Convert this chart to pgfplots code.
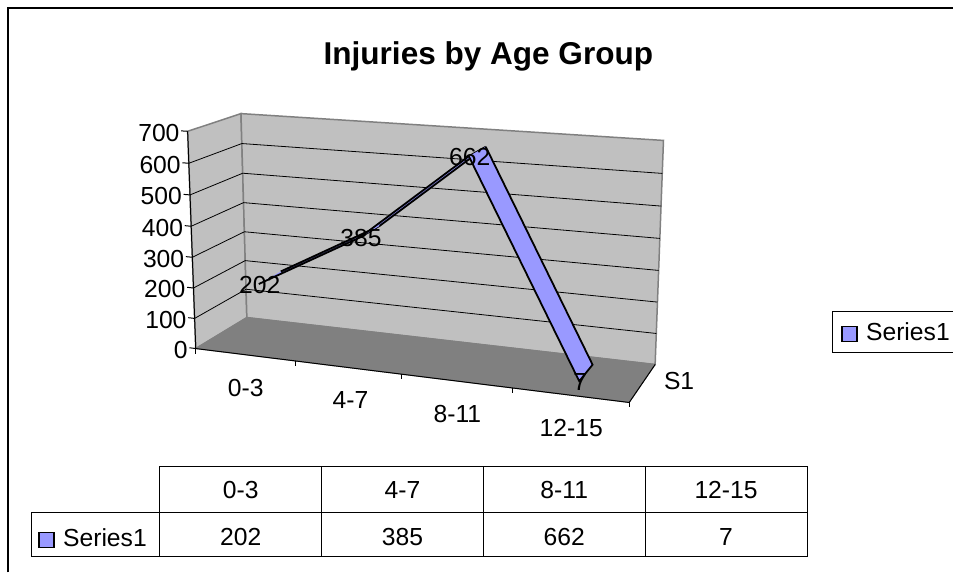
\documentclass[border=0pt]{standalone}
\usepackage{pgfplots}
\usepackage{pgfplotstable}
\usepackage{fontspec}
\setmainfont{Liberation Sans}
\pgfplotsset{compat=1.18}

% perspective of the 3D box: u = category position 0..4, v = depth 0..1, w = value 0..700
\newcommand{\den}{(1-0.025*\thisrow{u}+0.068*\thisrow{v}-0.034*\thisrow{w}/700)}
\newcommand{\px}{(92.75*\thisrow{u}+68*\thisrow{v}-14.5*\thisrow{w}/700+196)/\den}
\newcommand{\py}{(3.425*\thisrow{u}-9.4*\thisrow{v}-222*\thisrow{w}/700+349)/\den}
\pgfplotsset{table/proj/.style={x expr=\px, y expr=\py}}

% ribbon, front (v=0.3) and back (v=0.75) edges
\pgfplotstableread{
u v w
0.5 0.30 202
1.5 0.30 385
1.5 0.75 385
0.5 0.75 202
}\segA
\pgfplotstableread{
u v w
1.5 0.30 385
2.5 0.30 662
2.5 0.75 662
1.5 0.75 385
}\segB
\pgfplotstableread{
u v w
2.5 0.30 662
3.5 0.30 7
3.5 0.75 7
2.5 0.75 662
}\segC
\pgfplotstableread{
u v w lab
0.5 0.3 202 202
1.5 0.3 385 385
2.5 0.3 662 662
3.5 0.3 7 7
}\values

\definecolor{wall}{HTML}{C0C0C0}
\definecolor{floorc}{HTML}{808080}
\definecolor{serc}{HTML}{9999FF}

\begin{document}
\begin{tikzpicture}[font=\fontsize{24.8}{29}\selectfont]
\begin{axis}[
    width=954bp, height=573bp, scale only axis,
    xmin=0, xmax=954, ymin=0, ymax=573, y dir=reverse,
    axis lines=none, clip=false,
]
\fill[white] (axis cs:0,0) rectangle (axis cs:954,573);
% outer frame
\draw[black, line width=2.5bp] (axis cs:8,573) -- (axis cs:8,8) -- (axis cs:954,8);

% walls and floor
\addplot[fill=wall, draw=floorc, line width=1.5pt] table[proj, row sep=\\] {u v w\\ 0 0 0\\ 0 0 700\\ 0 1 700\\ 0 1 0\\ 0 0 0\\};
\addplot[fill=wall, draw=floorc, line width=1.5pt] table[proj, row sep=\\] {u v w\\ 0 1 0\\ 0 1 700\\ 4 1 700\\ 4 1 0\\ 0 1 0\\};
\addplot[fill=floorc, draw=floorc, line width=1pt] table[proj, row sep=\\] {u v w\\ 0 0 0\\ 0 1 0\\ 4 1 0\\ 4 0 0\\ 0 0 0\\};

% grid lines
\pgfplotsinvokeforeach{100,200,...,600}{
  \addplot[black, line width=0.8pt] table[proj, row sep=\\] {u v w\\ 0 0 #1\\ 0 1 #1\\ 4 1 #1\\};
}
% axis lines
\addplot[black, line width=1pt] table[proj, row sep=\\] {u v w\\ 0 0 700\\ 0 0 0\\ 4 0 0\\ 4 1 0\\};
\pgfplotsinvokeforeach{0,100,...,700}{
  \addplot[black, line width=1pt] table[proj, row sep=\\] {u v w\\ 0 0 #1\\ -0.065 0 #1\\};
  \addplot[draw=none, mark=none, nodes near coords={#1}, point meta=explicit symbolic,
    every node near coord/.append style={anchor=east, xshift=-8pt, yshift=-1.5pt, inner sep=0pt}]
    table[proj, row sep=\\, meta=w] {u v w\\ 0 0 #1\\};
}
\pgfplotsinvokeforeach{0,1,2,3,4}{
  \addplot[black, line width=1pt] table[x expr=\px, y expr=\py+\thisrow{t}, row sep=\\] {u v w t\\ #1 0 0 0\\ #1 0 0 5\\};
}

% ribbon
\addplot[fill=serc, draw=black, line width=1.8pt] table[proj] {\segA};
\addplot[fill=serc, draw=black, line width=1.8pt] table[proj] {\segB};
\addplot[fill=serc, draw=black, line width=1.8pt] table[proj] {\segC};

% data labels
\addplot[draw=none, mark=none, nodes near coords={\pgfplotspointmeta}, point meta=explicit symbolic,
    every node near coord/.append style={anchor=center, inner sep=0pt, xshift=1pt, yshift=-1pt}]
    table[proj, meta=lab] {\values};

% texts
\node[font=\fontsize{31.7}{36}\selectfont\bfseries] at (axis cs:489,56) {Injuries by Age Group};
\node at (axis cs:246,389) {0-3};
\node at (axis cs:351,401) {4-7};
\node at (axis cs:458,415) {8-11};
\node at (axis cs:572,429) {12-15};
\node at (axis cs:680,382) {S1};

% legend box
\draw[black, line width=0.8pt] (axis cs:954,312) -- (axis cs:833,312) -- (axis cs:833,353) -- (axis cs:954,353);
\draw[fill=serc, draw=black, line width=1.3pt] (axis cs:843,327) rectangle (axis cs:858,342);
\node[anchor=west, inner sep=0pt] at (axis cs:867,332) {Series1};

% data table under the plot
\draw[black, line width=0.8pt] (axis cs:160,467) rectangle (axis cs:808,557);
\draw[black, line width=0.8pt] (axis cs:31,513) rectangle (axis cs:808,557);
\draw[black, line width=0.8pt] (axis cs:322,467) -- (axis cs:322,557);
\draw[black, line width=0.8pt] (axis cs:484,467) -- (axis cs:484,557);
\draw[black, line width=0.8pt] (axis cs:646,467) -- (axis cs:646,557);
\draw[fill=serc, draw=black, line width=1.3pt] (axis cs:39,533) rectangle (axis cs:54,548);
\node[anchor=west, inner sep=0pt] at (axis cs:63,538) {Series1};
\node at (axis cs:241,491) {0-3};
\node at (axis cs:403,491) {4-7};
\node at (axis cs:565,491) {8-11};
\node at (axis cs:727,491) {12-15};
\node at (axis cs:241,538) {202};
\node at (axis cs:403,538) {385};
\node at (axis cs:565,538) {662};
\node at (axis cs:727,538) {7};
\end{axis}
\end{tikzpicture}
\end{document}
